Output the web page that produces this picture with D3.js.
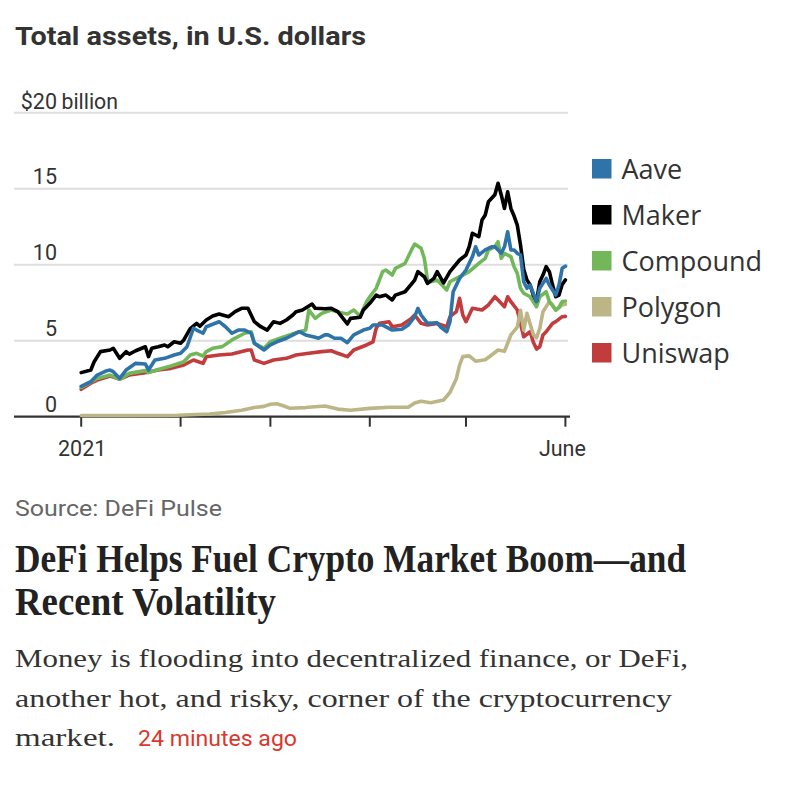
<!DOCTYPE html>
<html>
<head>
<meta charset="utf-8">
<script src="https://cdn.jsdelivr.net/npm/d3@7"></script>
<style>
  html, body { margin: 0; padding: 0; background: #fff; }
  svg { display: block; }
</style>
</head>
<body>
<div id="chart"></div>
<script>
// day of 2021 (0 = Jan 1), total assets in $ billion
const aave = [
  [0, 2.0], [3, 2.3], [5, 2.74], [8, 3.03], [9, 3.07], [10, 2.96], [12, 2.52], [14, 3.07], [17, 3.51],
  [20, 3.47], [21, 3.07], [23, 3.73], [26, 3.84], [29, 4.06], [31, 4.17], [33, 4.6], [35, 5.82], [36, 5.7],
  [38, 5.49], [39, 5.92], [43, 6.25], [45, 5.92], [47, 5.49], [49, 5.7], [51, 5.7], [53, 5.49], [54, 4.83],
  [57, 4.39], [59, 4.72], [61, 4.93], [64, 5.16], [66, 5.38], [68, 5.59], [70, 5.38], [73, 5.22], [74, 5.16],
  [76, 5.38], [77, 5.38], [79, 5.16], [81, 5.16], [83, 4.87], [85, 5.38], [88, 5.7], [90, 5.82], [91, 6.03],
  [94, 6.03], [97, 5.7], [100, 5.75], [102, 6.03], [104, 6.58], [105, 7.13], [106, 6.69], [108, 6.14],
  [111, 6.18], [112, 5.92], [114, 5.59], [115, 6.25], [116, 8.22], [118, 9.1], [120, 9.65], [122, 10.53],
  [123, 11.18], [124, 10.64], [126, 10.97], [128, 11.18], [129, 11.18], [131, 10.75], [132, 11.18],
  [133, 12.17], [134, 10.97], [135, 10.97], [136, 10.75], [137, 10.64], [138, 8.88], [139, 8.45], [140, 8.66],
  [142, 7.57], [143, 8.45], [145, 9.1], [146, 8.66], [148, 8.0], [149, 8.66], [150, 9.76], [151, 9.9]
];

const maker = [
  [0, 2.9], [3, 3.07], [4, 3.6], [6, 4.28], [9, 4.39], [10, 4.5], [12, 3.84], [14, 4.28], [15, 4.12],
  [17, 4.34], [20, 4.6], [21, 3.95], [22, 4.5], [24, 4.6], [26, 4.72], [27, 4.6], [29, 4.93], [31, 4.83],
  [32, 5.05], [34, 5.8], [36, 6.14], [37, 5.95], [39, 6.36], [41, 6.62], [43, 6.76], [46, 6.58], [48, 6.91],
  [50, 7.13], [52, 7.13], [54, 6.25], [56, 5.92], [58, 5.7], [60, 6.25], [62, 6.14], [64, 6.36], [66, 6.69],
  [67, 6.91], [69, 7.02], [72, 7.41], [73, 7.13], [76, 7.1], [78, 7.13], [80, 6.91], [83, 6.1], [84, 6.47],
  [87, 6.54], [88, 7.02], [90, 7.46], [92, 8.0], [93, 7.89], [95, 8.0], [97, 7.68], [98, 8.0], [101, 8.22],
  [104, 8.99], [105, 9.54], [107, 9.21], [108, 8.77], [110, 9.1], [111, 9.54], [113, 8.8], [115, 9.54],
  [118, 10.31], [120, 10.64], [121, 11.18], [122, 12.07], [124, 11.84], [125, 12.94], [126, 13.27],
  [127, 14.14], [129, 14.6], [130, 15.36], [131, 14.59], [132, 13.7], [133, 14.8], [134, 13.7], [135, 13.2],
  [136, 12.6], [137, 11.3], [138, 9.7], [139, 9.0], [140, 8.66], [141, 8.0], [142, 7.6], [143, 8.88],
  [144, 9.32], [145, 9.87], [146, 9.54], [147, 8.66], [148, 7.89], [149, 8.0], [150, 8.7], [151, 9.0]
];

const compound = [
  [0, 1.93], [5, 2.52], [9, 2.74], [12, 2.46], [15, 2.85], [20, 3.03], [21, 2.9], [24, 3.11], [28, 3.34],
  [32, 3.62], [34, 4.06], [36, 4.17], [38, 3.99], [39, 4.28], [41, 4.5], [44, 4.61], [47, 5.05], [51, 5.49],
  [53, 5.59], [54, 4.83], [57, 4.5], [59, 4.93], [62, 5.16], [65, 5.38], [68, 5.59], [70, 5.7], [71, 7.02],
  [73, 6.47], [75, 6.8], [78, 7.02], [81, 6.84], [83, 6.76], [85, 7.02], [87, 6.62], [89, 7.57], [90, 7.89],
  [92, 8.45], [94, 9.54], [95, 9.65], [97, 9.32], [98, 9.76], [101, 10.09], [103, 10.97], [104, 11.36],
  [106, 11.08], [107, 10.42], [108, 8.99], [109, 8.88], [111, 8.99], [114, 8.34], [115, 8.88], [117, 9.1],
  [119, 9.32], [121, 9.54], [124, 10.09], [126, 10.42], [127, 10.97], [129, 11.18], [130, 11.51],
  [131, 10.42], [132, 10.75], [134, 10.53], [135, 9.87], [136, 9.43], [137, 8.45], [138, 8.12], [140, 7.89],
  [142, 7.24], [143, 7.89], [145, 8.22], [146, 7.57], [148, 7.02], [149, 7.2], [150, 7.57], [151, 7.6]
];

const polygon = [
  [0, 0.08], [15, 0.08], [30, 0.1], [40, 0.18], [45, 0.28], [50, 0.42], [54, 0.6], [57, 0.68], [59, 0.82],
  [61, 0.85], [63, 0.72], [65, 0.56], [70, 0.6], [76, 0.7], [80, 0.5], [84, 0.42], [90, 0.55], [96, 0.62],
  [102, 0.62], [104, 0.9], [106, 1.02], [109, 0.92], [113, 1.1], [115, 1.6], [117, 2.5], [118, 3.4],
  [119, 3.95], [121, 4.0], [123, 3.65], [126, 3.75], [128, 4.06], [130, 4.39], [132, 4.3], [133, 4.83],
  [134, 5.38], [136, 5.9], [137, 7.0], [138, 5.7], [139, 6.8], [140, 6.1], [141, 5.4], [142, 5.2],
  [143, 5.8], [144, 6.9], [146, 7.57], [147, 7.35], [148, 7.0], [150, 7.35], [151, 7.4]
];

const uniswap = [
  [0, 1.8], [3, 2.2], [5, 2.41], [9, 2.68], [12, 2.48], [15, 2.74], [20, 2.9], [24, 3.07], [28, 3.18],
  [32, 3.4], [35, 3.73], [38, 3.51], [39, 3.95], [43, 4.06], [47, 4.12], [52, 4.39], [53, 4.39], [54, 3.73],
  [57, 3.51], [60, 3.73], [64, 3.84], [67, 4.06], [71, 4.17], [75, 4.28], [78, 4.34], [80, 4.17], [83, 3.95],
  [85, 4.39], [89, 4.72], [91, 4.93], [92, 5.82], [93, 6.14], [96, 6.25], [97, 5.92], [100, 6.03],
  [103, 6.47], [104, 6.69], [106, 6.14], [108, 6.03], [111, 6.14], [114, 5.92], [115, 6.58], [117, 6.91],
  [118, 7.79], [119, 6.69], [120, 6.25], [122, 7.13], [125, 7.02], [127, 7.35], [129, 7.89], [130, 7.68],
  [132, 7.24], [133, 7.89], [134, 7.57], [136, 7.02], [137, 6.14], [138, 5.26], [140, 5.59], [141, 4.9],
  [142, 4.45], [143, 4.6], [144, 5.38], [145, 5.59], [147, 6.14], [148, 6.25], [150, 6.58], [151, 6.6]
];

const seriesNames = ["Aave", "Maker", "Compound", "Polygon", "Uniswap"];
const seriesValues = [aave, maker, compound, polygon, uniswap];
const colors = ["#2f74a9", "#000000", "#72b85b", "#bcb687", "#c23b3d"];

const yTicks = [0, 5, 10, 15, 20];
const xTickDates = ["2021-01-01", "2021-02-01", "2021-03-01", "2021-04-01", "2021-05-01", "2021-06-01"];
const xTickLabels = ["2021", "", "", "", "", "June"];

const headline = ["DeFi Helps Fuel Crypto Market Boom\u2014and", "Recent Volatility"];
const dek = [
  "Money is flooding into decentralized finance, or DeFi,",
  "another hot, and risky, corner of the cryptocurrency",
  "market."
];

const width = 788;
const height = 788;
const start = new Date(Date.UTC(2021, 0, 1));
const ink = "#333";
const sans = "Roboto, 'Noto Sans', sans-serif";
const serif = "'Liberation Serif', 'DejaVu Serif', serif";

const x = d3.scaleUtc()
  .domain([start, d3.utcDay.offset(start, 151)])
  .range([81.2, 565.4]);
const y = d3.scaleLinear().domain([0, 20]).range([416.7, 112.7]);

const svg = d3.select("#chart")
  .append("svg")
  .attr("width", width)
  .attr("height", height)
  .attr("viewBox", [0, 0, width, height]);

svg.append("text")
  .attr("x", 15)
  .attr("y", 44.5)
  .attr("fill", ink)
  .attr("font-family", sans)
  .attr("font-weight", 700)
  .attr("font-size", 26.5)
  .attr("textLength", 351)
  .attr("lengthAdjust", "spacingAndGlyphs")
  .text("Total assets, in U.S. dollars");

// gridlines and y labels
svg.append("g")
  .selectAll("line")
  .data(yTicks.filter((d) => d > 0))
  .join("line")
  .attr("x1", 14)
  .attr("x2", 568)
  .attr("y1", (d) => y(d))
  .attr("y2", (d) => y(d))
  .attr("stroke", "#dedede")
  .attr("stroke-width", 2);

svg.append("g")
  .attr("font-family", sans)
  .attr("font-size", 21.5)
  .attr("fill", ink)
  .selectAll("text")
  .data(yTicks)
  .join("text")
  .attr("x", 57)
  .attr("y", (d) => y(d) - (d === 20 ? 3.5 : 5))
  .attr("text-anchor", "end")
  .text((d) => (d === 20 ? "$20" : d));

svg.append("text")
  .attr("x", 61.5)
  .attr("y", y(20) - 3.5)
  .attr("font-family", sans)
  .attr("font-size", 21.5)
  .attr("fill", ink)
  .attr("textLength", 56.5)
  .attr("lengthAdjust", "spacingAndGlyphs")
  .text("billion");

// x axis
const xAxis = svg.append("g").attr("transform", `translate(0,${y(0)})`);
xAxis.append("line")
  .attr("x1", 14)
  .attr("x2", 570)
  .attr("stroke", ink)
  .attr("stroke-width", 2.2);
xAxis.selectAll(".tick")
  .data(xTickDates)
  .join("line")
  .attr("class", "tick")
  .attr("x1", (d) => x(new Date(d)))
  .attr("x2", (d) => x(new Date(d)))
  .attr("y1", 0)
  .attr("y2", 10)
  .attr("stroke", ink)
  .attr("stroke-width", 2);
xAxis.selectAll(".label")
  .data(xTickDates)
  .join("text")
  .attr("class", "label")
  .attr("x", (d, i) => x(new Date(d)) + (i === xTickDates.length - 1 ? -3 : 1))
  .attr("y", 39.5)
  .attr("text-anchor", "middle")
  .attr("font-family", sans)
  .attr("font-size", 21.5)
  .attr("fill", ink)
  .text((d, i) => xTickLabels[i]);

// lines, Aave on top
const line = d3.line()
  .x((d) => x(d3.utcDay.offset(start, d[0])))
  .y((d) => y(d[1]));

const drawOrder = [4, 3, 2, 1, 0];
svg.append("g")
  .attr("fill", "none")
  .attr("stroke-width", 3.6)
  .attr("stroke-linejoin", "round")
  .attr("stroke-linecap", "round")
  .selectAll("path")
  .data(drawOrder)
  .join("path")
  .attr("stroke", (i) => colors[i])
  .attr("d", (i) => line(seriesValues[i]));

// legend
const legend = svg.append("g").attr("transform", "translate(592,159)");
const item = legend.selectAll("g")
  .data(seriesNames)
  .join("g")
  .attr("transform", (d, i) => `translate(0,${i * 46})`);
item.append("rect")
  .attr("width", 19.5)
  .attr("height", 19.5)
  .attr("fill", (d, i) => colors[i]);
item.append("text")
  .attr("x", 29.5)
  .attr("y", 20)
  .attr("font-family", "'Open Sans', sans-serif")
  .attr("font-size", 27)
  .attr("fill", ink)
  .text((d) => d);

// source, headline and dek
svg.append("text")
  .attr("x", 15)
  .attr("y", 516)
  .attr("font-family", sans)
  .attr("font-size", 21.5)
  .attr("fill", "#666")
  .attr("textLength", 207)
  .attr("lengthAdjust", "spacingAndGlyphs")
  .text("Source: DeFi Pulse");

const headLengths = [671, 261];
svg.append("g")
  .selectAll("text")
  .data(headline)
  .join("text")
  .attr("x", 15)
  .attr("y", (d, i) => 572 + i * 42.5)
  .attr("font-family", serif)
  .attr("font-weight", 700)
  .attr("font-size", 40)
  .attr("fill", "#222")
  .attr("textLength", (d, i) => headLengths[i])
  .attr("lengthAdjust", "spacingAndGlyphs")
  .text((d) => d);

const dekLengths = [673, 657, 100];
svg.append("g")
  .selectAll("text")
  .data(dek)
  .join("text")
  .attr("x", 15)
  .attr("y", (d, i) => 667 + i * 39.5)
  .attr("font-family", serif)
  .attr("font-size", 26)
  .attr("fill", ink)
  .attr("textLength", (d, i) => dekLengths[i])
  .attr("lengthAdjust", "spacingAndGlyphs")
  .text((d) => d);

svg.append("text")
  .attr("x", 138)
  .attr("y", 746)
  .attr("font-family", sans)
  .attr("font-size", 21.5)
  .attr("fill", "#d9382c")
  .attr("textLength", 159)
  .attr("lengthAdjust", "spacingAndGlyphs")
  .text("24 minutes ago");
</script>
</body>
</html>
